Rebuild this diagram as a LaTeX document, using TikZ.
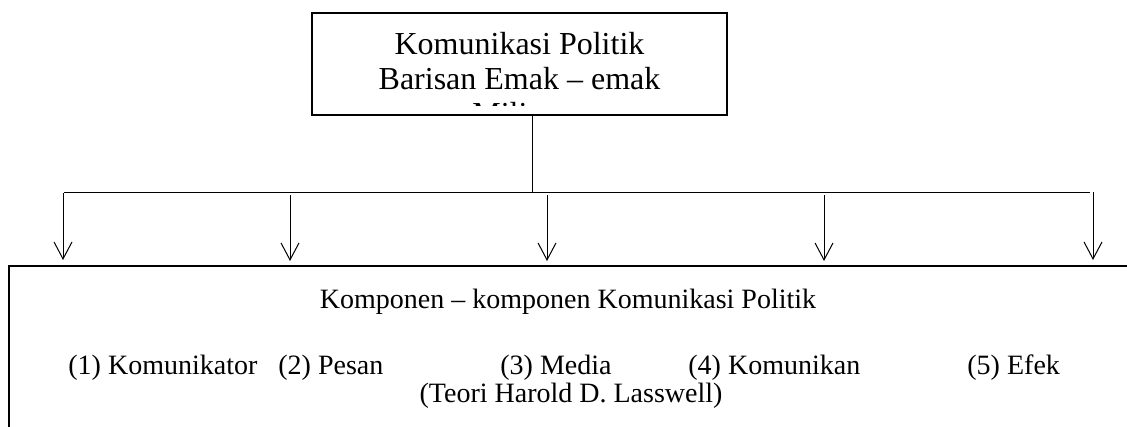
\documentclass[tikz,border=0pt]{standalone}
\usepackage{fontspec}
\setmainfont{Liberation Serif}
\usetikzlibrary{arrows.meta}
\tikzset{
  kotak/.style={line width=1pt},
  garis/.style={line width=0.5pt},
  panah/.style={garis,-{Straight Barb[length=8.5pt,width=9pt,line width=0.5pt]}},
  besar/.style={font=\fontsize{16}{18}\selectfont,anchor=base,inner sep=0pt},
  sedang/.style={font=\fontsize{14}{16}\selectfont,anchor=base,inner sep=0pt},
  butir/.style={sedang,anchor=base west},
}
\begin{document}
\begin{tikzpicture}[x=0.5pt,y=-0.5pt]
\useasboundingbox (0,0) rectangle (1127,427);
% kotak atas
\draw[kotak] (312,13) rectangle (727,115);
\begin{scope}
\clip (313,14) rectangle (726,106);
\node[besar] (judulA) at (519.5,55) {Komunikasi Politik};
\node[besar] (judulB) at (519.5,90) {Barisan Emak -- emak};
\node[besar] (judulC) at (519.5,125) {Militan};
\end{scope}
% cabang
\coordinate (atas) at (532,115);
\coordinate (cabang) at (532,192);
\coordinate (kiri) at (64,192);
\coordinate (kanan) at (1090,192);
\draw[garis] (atas) -- (cabang);
\draw[garis] (kiri) -- (kanan);
\draw[panah] (63,193) -- (63,260);
\foreach \x in {290,547,824} \draw[panah] (\x,195) -- (\x,261);
\draw[panah] (1093,192) -- (1093,260);
% kotak bawah
\draw[kotak] (9,440) -- (9,266) -- (1140,266);
\node[sedang] (komponen) at (568,308) {Komponen -- komponen Komunikasi Politik};
\node[butir] (b1) at (68,374) {(1) Komunikator};
\node[butir] (b2) at (278,374) {(2) Pesan};
\node[butir] (b3) at (500,374) {(3) Media};
\node[butir] (b4) at (688,374) {(4) Komunikan};
\node[butir] (b5) at (967,374) {(5) Efek};
\node[sedang] (teori) at (571,402) {(Teori Harold D. Lasswell)};
\end{tikzpicture}
\end{document}
